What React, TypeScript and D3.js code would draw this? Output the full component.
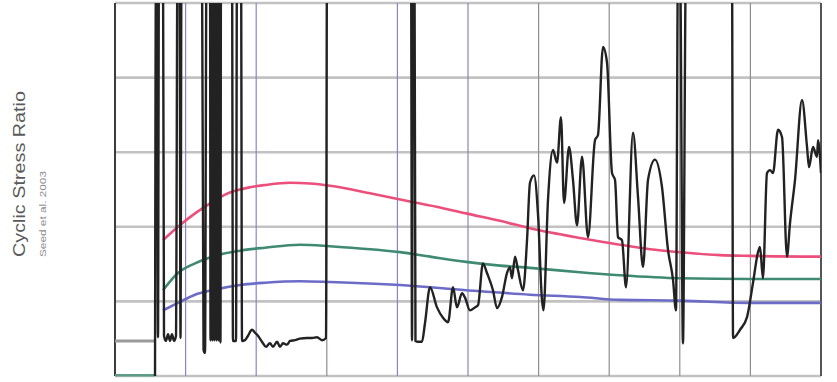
import React from "react";
import * as d3 from "d3";

// ---- data ----
const traceX = [0.567,0.581,0.595,0.609,0.623,0.680,0.694,0.722,0.751,0.779,0.807,0.836,0.864,0.885,0.914,0.928,0.942,1.232,1.254,1.275,1.296,1.346,1.353,1.367,1.381,1.395,1.409,1.423,1.438,1.452,1.466,1.480,1.494,1.501,1.657,1.671,1.714,1.728,1.785,1.799,1.841,1.884,1.941,1.983,2.025,2.096,2.139,2.195,2.238,2.295,2.337,2.380,2.436,2.479,2.550,2.620,2.720,2.790,2.861,2.932,2.989,3.003,4.193,4.207,4.221,4.242,4.256,4.292,4.348,4.391,4.462,4.561,4.646,4.717,4.788,4.844,4.915,4.958,5.028,5.099,5.142,5.212,5.269,5.354,5.411,5.482,5.552,5.595,5.623,5.666,5.708,5.779,5.836,5.878,5.935,5.992,6.048,6.069,6.133,6.204,6.261,6.317,6.360,6.431,6.487,6.544,6.615,6.700,6.799,6.841,6.912,6.969,7.040,7.082,7.125,7.181,7.238,7.337,7.408,7.479,7.550,7.649,7.748,7.833,7.904,7.946,7.975,8.003,8.045,8.088,8.739,8.754,8.853,8.952,9.037,9.108,9.136,9.178,9.235,9.278,9.320,9.391,9.448,9.518,9.561,9.632,9.731,9.802,9.830,9.887,9.943,9.958,10.0];
const traceY = [0,0.56,0.56,0.052,0.56,0.56,0.054,0.047,0.056,0.047,0.056,0.047,0.054,0.56,0.56,0.051,0.56,0.56,0.035,0.031,0.56,0.56,0.048,0.56,0.048,0.56,0.048,0.56,0.048,0.56,0.048,0.56,0.045,0.56,0.56,0.047,0.047,0.56,0.56,0.047,0.048,0.054,0.062,0.058,0.054,0.044,0.039,0.044,0.039,0.046,0.039,0.044,0.042,0.047,0.048,0.050,0.051,0.051,0.052,0.048,0.051,0.56,0.56,0.048,0.56,0.56,0.047,0.046,0.046,0.071,0.119,0.092,0.078,0.072,0.119,0.092,0.111,0.105,0.088,0.092,0.095,0.151,0.138,0.115,0.091,0.106,0.138,0.146,0.131,0.160,0.142,0.115,0.182,0.259,0.269,0.216,0.102,0.088,0.236,0.303,0.286,0.347,0.232,0.307,0.263,0.202,0.294,0.186,0.316,0.323,0.441,0.420,0.272,0.263,0.186,0.182,0.119,0.326,0.240,0.146,0.263,0.290,0.253,0.169,0.129,0.088,0.56,0.56,0.044,0.56,0.56,0.051,0.062,0.079,0.125,0.166,0.173,0.131,0.272,0.276,0.272,0.330,0.320,0.160,0.205,0.263,0.370,0.307,0.280,0.307,0.294,0.316,0.272];

const pinkX = [0.680,0.892,1.062,1.275,1.601,1.912,2.125,2.479,2.762,3.045,3.612,4.178,4.603,4.972,5.453,5.878,6.586,7.153,7.578,8.003,8.569,8.994,10.0];
const pinkY = [0.182,0.200,0.213,0.227,0.245,0.253,0.256,0.259,0.258,0.255,0.245,0.234,0.226,0.218,0.208,0.198,0.185,0.176,0.170,0.166,0.162,0.161,0.160];

const greenX = [0.680,0.892,1.133,1.374,1.771,2.125,2.620,3.045,3.470,4.037,4.462,4.972,5.453,5.878,6.586,7.153,8.003,8.994,10.0];
const greenY = [0.115,0.138,0.151,0.160,0.168,0.172,0.176,0.174,0.171,0.166,0.160,0.153,0.148,0.145,0.139,0.135,0.131,0.130,0.130];

const blueX = [0.680,0.892,1.133,1.374,1.771,2.125,2.620,3.045,4.037,4.972,5.878,6.586,7.153,8.003,8.994,10.0];
const blueY = [0.088,0.098,0.109,0.115,0.122,0.125,0.127,0.126,0.122,0.115,0.109,0.106,0.102,0.101,0.098,0.098];

const leadX = [0, 0.567];
const leadGrayY = [0.047, 0.047];
const leadGreenY = [0.001, 0.001];

const xTicks = [0,1,2,3,4,5,6,7,8,9,10];
const yTicks = [0,0.1,0.2,0.3,0.4,0.5];

const yLabel = "Cyclic Stress Ratio";
const ySubLabel = "Seed et al. 2003";

// ---- styles ----
const vGridColors = ["#3c3c3c","#8585c8","#8a86c4","#8c8c9c","#8585c8","#8888b0","#8e8e8e","#8e8e8e","#8e8e8e","#8e8e8e","#555555"];

export default function App() {
  const W = 837, H = 382;
  const x = d3.scaleLinear().domain([0, 10]).range([115, 821]);
  const y = d3.scaleLinear().domain([0, 0.5]).range([376, 3]);
  const line = d3.line<[number, number]>().x(d => x(d[0])).y(d => y(d[1]));
  const curve = d3.line<[number, number]>().x(d => x(d[0])).y(d => y(d[1])).curve(d3.curveMonotoneX);
  const zip = (a: number[], b: number[]) => a.map((v, i) => [v, b[i]] as [number, number]);

  return (
    <svg width={W} height={H} style={{ position: "absolute", left: 0, top: 0, background: "#fff" }}>
      <defs>
        <clipPath id="plot">
          <rect x={115} y={3} width={706} height={373} />
        </clipPath>
      </defs>
      {yTicks.map((t, i) => (
        <line key={"h" + i} x1={115} x2={821} y1={y(t)} y2={y(t)} stroke="#c2c2c2" strokeWidth={2.6} />
      ))}
      {xTicks.map((t, i) => (
        <line key={"v" + i} x1={x(t)} x2={x(t)} y1={3} y2={376} stroke={vGridColors[i]} strokeWidth={i === 0 || i === 10 ? 2 : 1.2} />
      ))}
      <path d={line(zip(leadX, leadGrayY)) || ""} fill="none" stroke="#9a9a9a" strokeWidth={3} />
      <path d={line(zip(leadX, leadGreenY)) || ""} fill="none" stroke="#5e9c86" strokeWidth={2.5} />
      <g clipPath="url(#plot)">
        <path d={curve(zip(pinkX, pinkY)) || ""} fill="none" stroke="#ec4f7c" strokeWidth={2.6} />
        <path d={curve(zip(greenX, greenY)) || ""} fill="none" stroke="#3f8a72" strokeWidth={2.6} />
        <path d={curve(zip(blueX, blueY)) || ""} fill="none" stroke="#6c6cc8" strokeWidth={2.6} />
        <path d={curve(zip(traceX, traceY)) || ""} fill="none" stroke="#222" strokeWidth={2.4} strokeLinejoin="round" />
      </g>
      <text transform="translate(25,257) rotate(-90)" fontFamily="Liberation Sans, Arial, sans-serif" fontSize={16} fill="#5a5a5a" textLength={166} lengthAdjust="spacingAndGlyphs">{yLabel}</text>
      <text transform="translate(46,257) rotate(-90)" fontFamily="Liberation Sans, Arial, sans-serif" fontSize={9} fill="#8a8a8a" textLength={86} lengthAdjust="spacingAndGlyphs">{ySubLabel}</text>
    </svg>
  );
}
